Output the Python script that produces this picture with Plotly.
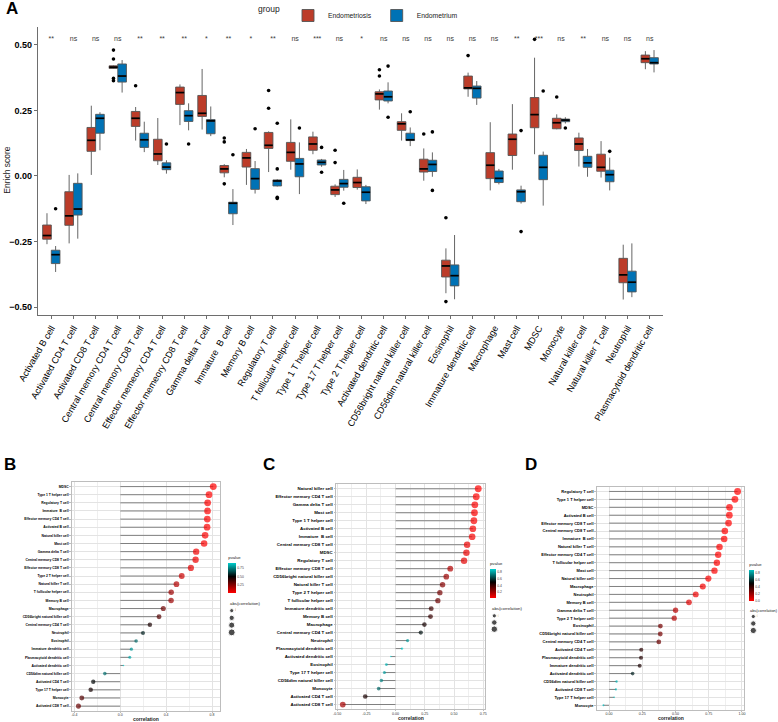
import numpy as np
import plotly.graph_objects as go

W, H = 778, 722
FONT = "Liberation Sans, Arial, Helvetica, sans-serif"


def px(x):
    return x / W


def py(y):
    return 1 - y / H


# ---------------- Panel A data ----------------
cells_A = ["Activated B cell", "Activated CD4 T cell", "Activated CD8 T cell",
           "Central memory CD4 T cell", "Central memory CD8 T cell",
           "Effector memeory CD4 T cell", "Effector memeory CD8 T cell",
           "Gamma delta T cell", "Immature\u00a0 B cell", "Memory B cell",
           "Regulatory T cell", "T follicular helper cell", "Type 1 T helper cell",
           "Type 17 T helper cell", "Type 2 T helper cell", "Activated dendritic cell",
           "CD56bright natural killer cell", "CD56dim natural killer cell",
           "Eosinophil", "Immature dendritic cell", "Macrophage", "Mast cell",
           "MDSC", "Monocyte", "Natural killer cell", "Natural killer T cell",
           "Neutrophil", "Plasmacytoid dendritic cell"]
sig_A = ["**", "ns", "ns", "ns", "**", "**", "**", "*", "**", "*", "**", "ns", "***",
         "ns", "*", "ns", "ns", "ns", "ns", "ns", "ns", "**", "***", "ns", "**", "ns",
         "ns", "ns"]
sig_y = 0.52

# Endometriosis (red)
endo_q1 = [-0.241, -0.188, 0.094, 0.410, 0.189, 0.058, 0.273, 0.227, 0.012, 0.034,
           0.105, 0.056, 0.098, -0.071, -0.044, 0.290, 0.174, 0.015, -0.385, 0.332,
           -0.010, 0.078, 0.184, 0.180, 0.097, 0.018, -0.407, 0.432]
endo_med = [-0.227, -0.152, 0.136, 0.415, 0.220, 0.084, 0.318, 0.239, 0.027, 0.069,
            0.117, 0.090, 0.122, -0.053, -0.025, 0.313, 0.199, 0.027, -0.343, 0.336,
            0.041, 0.140, 0.234, 0.203, 0.122, 0.033, -0.377, 0.447]
endo_q3 = [-0.187, -0.060, 0.185, 0.420, 0.246, 0.140, 0.339, 0.307, 0.040, 0.090,
           0.166, 0.128, 0.149, -0.039, -0.005, 0.321, 0.207, 0.064, -0.321, 0.381,
           0.089, 0.160, 0.299, 0.220, 0.145, 0.083, -0.314, 0.461]
endo_lo = [-0.260, -0.257, 0.004, 0.408, 0.135, 0.042, 0.194, 0.177, -0.005, -0.034,
           0.015, 0.024, 0.083, -0.080, -0.052, 0.253, 0.135, -0.018, -0.447, 0.302,
           -0.055, 0.024, 0.083, 0.178, 0.036, -0.006, -0.471, 0.407]
endo_hi = [-0.142, 0.004, 0.268, 0.422, 0.263, 0.221, 0.349, 0.408, 0.045, 0.103,
           0.170, 0.216, 0.169, -0.032, 0.025, 0.330, 0.239, 0.105, -0.276, 0.394,
           0.205, 0.274, 0.451, 0.235, 0.165, 0.133, -0.262, 0.476]
endo_out = [[], [], [], [0.480, 0.446, 0.372, 0.363], [0.344], [], [], [],
            [0.145, 0.130, -0.030], [], [0.326, 0.258], [], [], [0.098, 0.051], [],
            [0.405, 0.381], [], [0.160], [-0.159, -0.479], [0.459], [], [], [0.521],
            [0.301], [], [], [], []]

# Endometrium (blue)
eum_q1 = [-0.334, -0.149, 0.163, 0.358, 0.109, 0.024, 0.208, 0.161, -0.144, -0.051,
          -0.038, -0.003, 0.042, -0.043, -0.095, 0.286, 0.135, 0.017, -0.419, 0.297,
          -0.025, -0.098, -0.014, 0.207, 0.033, -0.022, -0.442, 0.427]
eum_med = [-0.300, -0.126, 0.220, 0.381, 0.138, 0.034, 0.230, 0.210, -0.104, -0.010,
           -0.019, 0.046, 0.052, -0.029, -0.062, 0.302, 0.138, 0.044, -0.380, 0.334,
           -0.009, -0.060, 0.033, 0.213, 0.050, 0.005, -0.405, 0.432]
eum_q3 = [-0.283, -0.028, 0.235, 0.427, 0.163, 0.050, 0.249, 0.215, -0.100, 0.028,
          -0.015, 0.067, 0.061, -0.013, -0.041, 0.324, 0.163, 0.060, -0.339, 0.343,
          0.019, -0.053, 0.079, 0.217, 0.075, 0.022, -0.363, 0.451]
eum_lo = [-0.366, -0.239, 0.098, 0.318, 0.091, 0.009, 0.174, 0.152, -0.187, -0.067,
          -0.040, -0.069, 0.035, -0.056, -0.107, 0.277, 0.114, -0.003, -0.470, 0.271,
          -0.032, -0.105, -0.113, 0.200, -0.003, -0.055, -0.462, 0.395]
eum_hi = [-0.267, 0.010, 0.243, 0.442, 0.207, 0.060, 0.277, 0.265, -0.050, 0.057,
          -0.012, 0.128, 0.065, 0.023, -0.034, 0.357, 0.185, 0.090, -0.225, 0.362,
          0.027, -0.037, 0.093, 0.224, 0.103, 0.070, -0.257, 0.480]
eum_out = [[-0.125], [], [], [], [], [0.122], [0.122], [], [0.081], [0.180],
           [0.201, 0.027, -0.081, -0.086], [0.183], [0.109, 0.014], [-0.104], [],
           [0.419, 0.224], [0.245], [0.168, -0.055], [], [], [], [0.173, -0.212],
           [0.324], [0.183], [], [0.094], [], []]

groups = ["Endometriosis", "Endometrium"]
group_colors = ["#BC3C29", "#0072B5"]

# ---------------- Panels B, C, D data ----------------
cells_B = ["MDSC", "Type 1 T helper cell", "Regulatory T cell", "Immature\u00a0 B cell",
           "Effector memory CD4 T cell", "Activated B cell", "Natural killer cell",
           "Mast cell", "Gamma delta T cell", "Central memory CD8 T cell",
           "Effector memory CD8 T cell", "Type 2 T helper cell", "Natural killer T cell",
           "T follicular helper cell", "Memory B cell", "Macrophage",
           "CD56bright natural killer cell", "Central memory CD4 T cell", "Neutrophil",
           "Eosinophil", "Immature dendritic cell", "Plasmacytoid dendritic cell",
           "Activated dendritic cell", "CD56dim natural killer cell",
           "Activated CD4 T cell", "Type 17 T helper cell", "Monocyte",
           "Activated CD8 T cell"]
corr_B = [0.811, 0.774, 0.762, 0.761, 0.759, 0.757, 0.740, 0.731, 0.662, 0.657, 0.616,
          0.536, 0.490, 0.444, 0.443, 0.375, 0.338, 0.258, 0.198, 0.138, 0.097, 0.083,
          0.028, -0.135, -0.236, -0.258, -0.336, -0.365]
pval_B = [0.005, 0.009, 0.010, 0.010, 0.011, 0.011, 0.014, 0.016, 0.037, 0.039, 0.058,
          0.11, 0.15, 0.20, 0.20, 0.29, 0.34, 0.45, 0.56, 0.70, 0.79, 0.82, 0.90, 0.71,
          0.51, 0.46, 0.34, 0.30]
size_legend_B = [0.2, 0.4, 0.6, 0.8]
size_labels_B = ["0.2", "0.4", "0.6", "0.8"]
xticks_B = [-0.4, 0.0, 0.4, 0.8]
xticklabels_B = ["-0.4", "0.0", "0.4", "0.8"]
cbticks_B = [0.25, 0.50, 0.75]
cblabels_B = ["0.25", "0.50", "0.75"]

cells_C = ["Natural killer cell", "Effector memory CD4 T cell", "Gamma delta T cell",
           "Mast cell", "Type 1 T helper cell", "Activated B cell", "Immature\u00a0 B cell",
           "Central memory CD8 T cell", "MDSC", "Regulatory T cell",
           "Effector memory CD8 T cell", "CD56bright natural killer cell",
           "Natural killer T cell", "Type 2 T helper cell", "T follicular helper cell",
           "Immature dendritic cell", "Memory B cell", "Macrophage",
           "Central memory CD4 T cell", "Neutrophil", "Plasmacytoid dendritic cell",
           "Activated dendritic cell", "Eosinophil", "Type 17 T helper cell",
           "CD56dim natural killer cell", "Monocyte", "Activated CD4 T cell",
           "Activated CD8 T cell"]
corr_C = [0.707, 0.690, 0.678, 0.675, 0.670, 0.661, 0.655, 0.612, 0.606, 0.586, 0.468,
          0.434, 0.402, 0.379, 0.362, 0.305, 0.299, 0.247, 0.216, 0.103, 0.055, -0.040,
          -0.078, -0.095, -0.121, -0.144, -0.259, -0.451]
pval_C = [0.022, 0.027, 0.031, 0.032, 0.034, 0.038, 0.040, 0.060, 0.063, 0.075, 0.17,
          0.21, 0.25, 0.28, 0.30, 0.39, 0.40, 0.46, 0.53, 0.78, 0.88, 0.89, 0.83, 0.79,
          0.74, 0.69, 0.45, 0.19]
size_legend_C = [0.2, 0.4, 0.6]
size_labels_C = ["0.2", "0.4", "0.6"]
xticks_C = [-0.50, -0.25, 0.00, 0.25, 0.50, 0.75]
xticklabels_C = ["-0.50", "-0.25", "0.00", "0.25", "0.50", "0.75"]
cbticks_C = [0.2, 0.4, 0.6, 0.8]
cblabels_C = ["0.2", "0.4", "0.6", "0.8"]

cells_D = ["Regulatory T cell", "Type 1 T helper cell", "MDSC", "Activated B cell",
           "Effector memory CD8 T cell", "Central memory CD8 T cell", "Immature\u00a0 B cell",
           "Natural killer T cell", "Effector memory CD4 T cell",
           "T follicular helper cell", "Mast cell", "Natural killer cell", "Macrophage",
           "Neutrophil", "Memory B cell", "Gamma delta T cell", "Type 2 T helper cell",
           "Eosinophil", "CD56bright natural killer cell", "Central memory CD4 T cell",
           "Activated CD4 T cell", "Plasmacytoid dendritic cell",
           "Immature dendritic cell", "Activated dendritic cell",
           "CD56dim natural killer cell", "Activated CD8 T cell",
           "Type 17 T helper cell", "Monocyte"]
corr_D = [0.967, 0.947, 0.906, 0.905, 0.899, 0.871, 0.866, 0.831, 0.821, 0.811, 0.793,
          0.747, 0.705, 0.652, 0.601, 0.500, 0.490, 0.386, 0.385, 0.374, 0.242, 0.240,
          0.230, 0.177, 0.056, 0.051, 0.038, -0.043]
pval_D = [0.00001, 0.00004, 0.0003, 0.0003, 0.0004, 0.001, 0.001, 0.003, 0.004, 0.004,
          0.006, 0.013, 0.023, 0.041, 0.066, 0.14, 0.15, 0.27, 0.27, 0.29, 0.42, 0.43,
          0.45, 0.56, 0.85, 0.86, 0.88, 0.87]
size_legend_D = [0.25, 0.50, 0.75]
size_labels_D = ["0.25", "0.50", "0.75"]
xticks_D = [0.00, 0.25, 0.50, 0.75, 1.00]
xticklabels_D = ["0.00", "0.25", "0.50", "0.75", "1.00"]
cbticks_D = [0.0, 0.2, 0.4, 0.6, 0.8]
cblabels_D = ["0.0", "0.2", "0.4", "0.6", "0.8"]

# ---------------- figure ----------------
fig = go.Figure()

# ----- Panel A -----
DODGE = 0.195
BOXW = 0.39
idx = list(range(len(cells_A)))
stats = [
    (endo_q1, endo_med, endo_q3, endo_lo, endo_hi, endo_out, -DODGE),
    (eum_q1, eum_med, eum_q3, eum_lo, eum_hi, eum_out, DODGE),
]
for g, (q1, med, q3, lo, hi, outs, off) in enumerate(stats):
    xs = [i + off for i in idx]
    fig.add_trace(go.Box(
        x=xs, q1=q1, median=med, q3=q3, lowerfence=lo, upperfence=hi,
        width=BOXW, whiskerwidth=0, boxpoints=False,
        fillcolor=group_colors[g], line=dict(color="#555555", width=0.9),
        name=groups[g], legendgroup=groups[g], showlegend=True,
        xaxis="x", yaxis="y"))
    mx, my = [], []
    for x0, m in zip(xs, med):
        mx += [x0 - BOXW / 2 * 0.97, x0 + BOXW / 2 * 0.97, None]
        my += [m, m, None]
    fig.add_trace(go.Scatter(x=mx, y=my, mode="lines",
                             line=dict(color="black", width=1.7),
                             showlegend=False, hoverinfo="skip",
                             xaxis="x", yaxis="y"))
    ox, oy = [], []
    for x0, o in zip(xs, outs):
        for v in o:
            ox.append(x0)
            oy.append(v)
    fig.add_trace(go.Scatter(x=ox, y=oy, mode="markers",
                             marker=dict(color="black", size=3.6),
                             showlegend=False, xaxis="x", yaxis="y"))

fig.add_trace(go.Scatter(x=idx, y=[sig_y] * len(idx), mode="text", text=sig_A,
                         textfont=dict(size=7, color="#3a3a3a", family=FONT),
                         showlegend=False, xaxis="x", yaxis="y"))


# ----- helper for lollipop panels -----
def pscale(pmin, pmax, n=21):
    d = max(0.5 - pmin, pmax - 0.5)
    out = []
    for s in np.linspace(0, 1, n):
        p = pmin + s * (pmax - pmin)
        t = 0.5 + (p - 0.5) / (2 * d)
        if t <= 0.5:
            f = t / 0.5
            rgb = (255 * (1 - f), 0, 0)
        else:
            f = (t - 0.5) / 0.5
            rgb = (0, 255 * f, 255 * f)
        out.append([float(s), "rgb(%d,%d,%d)" % tuple(int(round(c)) for c in rgb)])
    return out


def sizes(vals, amin, amax, dmin=1.6, dmax=6.9):
    return [dmin + (dmax - dmin) * np.sqrt(max(0.0, (abs(v) - amin) / (amax - amin)))
            for v in vals]


panels = [
    dict(ax="2", cax="coloraxis", cells=cells_B, corr=corr_B, p=pval_B,
         box=(71.7, 220.0, 481.7, 711.0), yfont=3.4, xfont=3.5, tdy=8.3,
         xt=xticks_B, xtl=xticklabels_B, minor=0.2,
         cb=dict(x=228.3, top=553.0, bot=593.0, th=8, tv=cbticks_B, tl=cblabels_B),
         leg=dict(cx=231.7, top=607.0, bot=636.0, tx=228.3, ty=603.7, fs=4.3,
                  vals=size_legend_B, labs=size_labels_B), laxn="5"),
    dict(ax="3", cax="coloraxis2", cells=cells_C, corr=corr_C, p=pval_C,
         box=(336.0, 485.0, 484.0, 709.3), yfont=4.4, xfont=3.6, tdy=9.0,
         xt=xticks_C, xtl=xticklabels_C, minor=0.125,
         cb=dict(x=490.0, top=559.0, bot=598.0, th=6, tv=cbticks_C, tl=cblabels_C),
         leg=dict(cx=494.3, top=612.5, bot=632.5, tx=490.0, ty=608.0, fs=4.3,
                  vals=size_legend_C, labs=size_labels_C), laxn="6"),
    dict(ax="4", cax="coloraxis3", cells=cells_D, corr=corr_D, p=pval_D,
         box=(596.7, 744.3, 486.7, 710.0), yfont=4.0, xfont=3.6, tdy=8.3,
         xt=xticks_D, xtl=xticklabels_D, minor=0.125,
         cb=dict(x=749.3, top=560.0, bot=601.0, th=5, tv=cbticks_D, tl=cblabels_D),
         leg=dict(cx=753.3, top=613.0, bot=634.0, tx=748.0, ty=610.0, fs=3.9,
                  vals=size_legend_D, labs=size_labels_D), laxn="7"),
]

layout_extra = {}
annotations = []
for P in panels:
    corr = P["corr"]
    n = len(corr)
    rows = list(range(n))
    amin = min(abs(v) for v in corr)
    amax = max(abs(v) for v in corr)
    sx, sy = [], []
    for k, v in zip(rows, corr):
        sx += [0, v, None]
        sy += [k, k, None]
    fig.add_trace(go.Scatter(x=sx, y=sy, mode="lines",
                             line=dict(color="#808080", width=1.0),
                             showlegend=False, hoverinfo="skip",
                             xaxis="x" + P["ax"], yaxis="y" + P["ax"]))
    fig.add_trace(go.Scatter(x=corr, y=rows, mode="markers",
                             marker=dict(color=P["p"], coloraxis=P["cax"],
                                         size=sizes(corr, amin, amax),
                                         line=dict(width=0)),
                             showlegend=False,
                             xaxis="x" + P["ax"], yaxis="y" + P["ax"]))
    lo = min(min(corr), 0.0)
    hi = max(max(corr), 0.0)
    span = hi - lo
    xr = [lo - 0.05 * span, hi + 0.05 * span]
    x0, x1, y0, y1 = P["box"]
    minor_vals = [t + P["minor"] for t in P["xt"]] + [P["xt"][0] - P["minor"]]
    layout_extra["xaxis" + P["ax"]] = dict(
        domain=[px(x0), px(x1)], range=xr, anchor="y" + P["ax"], automargin=False,
        tickvals=P["xt"], ticktext=P["xtl"], showgrid=True, gridcolor="#e3e3e3",
        gridwidth=0.6, zeroline=False, showline=True, mirror=True,
        linecolor="#bdbdbd", linewidth=0.8, ticks="outside", ticklen=1,
        tickcolor="#bdbdbd", tickwidth=0.5, ticklabelstandoff=-1,
        tickfont=dict(size=P["xfont"], color="#333333", family=FONT),
        minor=dict(tickvals=minor_vals, showgrid=True, gridcolor="#efefef",
                   gridwidth=0.4, ticks=""))
    layout_extra["yaxis" + P["ax"]] = dict(
        domain=[py(y1), py(y0)], range=[n - 1 + 0.6, -0.6], anchor="x" + P["ax"],
        automargin=False,
        tickvals=rows, ticktext=P["cells"], showgrid=True, gridcolor="#e3e3e3",
        gridwidth=0.6, zeroline=False, showline=True, mirror=True,
        linecolor="#bdbdbd", linewidth=0.8, ticks="outside", ticklen=1.5,
        tickcolor="#bdbdbd", tickwidth=0.5,
        tickfont=dict(size=P["yfont"], color="black", family=FONT, weight="bold"))
    annotations.append(dict(x=px((x0 + x1) / 2), y=py(y1 + P["tdy"]), xref="paper",
                            yref="paper", text="<b>correlation</b>", showarrow=False,
                            font=dict(size=5.0, color="#222222", family=FONT),
                            xanchor="center", yanchor="middle"))
    cb = P["cb"]
    layout_extra[P["cax"]] = dict(
        colorscale=pscale(min(P["p"]), max(P["p"])), cmin=min(P["p"]),
        cmax=max(P["p"]),
        colorbar=dict(x=px(cb["x"]), xanchor="left", y=py(cb["top"]), yanchor="top",
                      len=cb["bot"] - cb["top"], lenmode="pixels", thickness=cb["th"],
                      xpad=0, ypad=0, outlinewidth=0, ticks="",
                      tickvals=cb["tv"], ticktext=cb["tl"],
                      tickfont=dict(size=3.4, color="#444444", family=FONT),
                      title=dict(text="pvalue", side="top",
                                 font=dict(size=4.2, color="#222222", family=FONT))))
    lg = P["leg"]
    nl = len(lg["vals"])
    fig.add_trace(go.Scatter(
        x=[0] * nl, y=list(range(nl)), mode="markers+text", text=lg["labs"],
        textposition="middle right",
        textfont=dict(size=3.4, color="#444444", family=FONT),
        marker=dict(color="black", size=sizes(lg["vals"], amin, amax)),
        showlegend=False, hoverinfo="skip",
        xaxis="x" + P["laxn"], yaxis="y" + P["laxn"]))
    layout_extra["xaxis" + P["laxn"]] = dict(
        domain=[px(lg["cx"] - 4), px(lg["cx"] + 4)], range=[-1, 1], visible=False,
        anchor="y" + P["laxn"], fixedrange=True, automargin=False)
    layout_extra["yaxis" + P["laxn"]] = dict(
        domain=[py(lg["bot"]), py(lg["top"])], range=[nl - 0.5, -0.5], visible=False,
        anchor="x" + P["laxn"], fixedrange=True, automargin=False)
    annotations.append(dict(x=px(lg["tx"]), y=py(lg["ty"]), xref="paper", yref="paper",
                            text="abs(correlation)", showarrow=False,
                            font=dict(size=lg["fs"], color="#222222", family=FONT),
                            xanchor="left", yanchor="middle"))

for letter, lx, ly in [("A", 3.5, 9.0), ("B", 1.5, 465.0), ("C", 261.0, 465.0),
                       ("D", 522.5, 465.0)]:
    annotations.append(dict(x=px(lx), y=py(ly), xref="paper", yref="paper",
                            text="<b>%s</b>" % letter, showarrow=False,
                            font=dict(size=17, color="black", family=FONT),
                            xanchor="left", yanchor="middle"))
annotations.append(dict(x=px(6.7), y=py(170.0), xref="paper", yref="paper",
                        text="Enrich score", textangle=-90, showarrow=False,
                        font=dict(size=8.5, color="#222222", family=FONT),
                        xanchor="center", yanchor="middle"))

fig.update_layout(
    width=W, height=H, margin=dict(l=0, r=0, t=0, b=0, autoexpand=False),
    paper_bgcolor="white", plot_bgcolor="white",
    font=dict(family=FONT, color="black"),
    boxmode="overlay",
    xaxis=dict(domain=[px(38), px(663)], range=[-0.6, len(cells_A) - 1 + 0.6],
               tickvals=idx, ticktext=cells_A, tickangle=-60, automargin=False,
               tickfont=dict(size=9.2, color="black", family=FONT),
               showline=True, linecolor="#6e6e6e", linewidth=1.3, ticks="outside",
               ticklen=3, tickcolor="#6e6e6e", showgrid=False, zeroline=False,
               anchor="y"),
    yaxis=dict(domain=[py(315), py(27)], range=[-0.53, 0.568], automargin=False,
               tickvals=[-0.5, -0.25, 0, 0.25, 0.5],
               ticktext=["\u22120.50", "\u22120.25", "0.00", "0.25", "0.50"],
               tickfont=dict(size=9, color="black", family=FONT, weight="bold"),
               showline=True, linecolor="#6e6e6e", linewidth=1.3, ticks="outside",
               ticklen=3, tickcolor="#6e6e6e", showgrid=False, zeroline=False,
               anchor="x"),
    legend=dict(orientation="h", x=px(256), xanchor="left", y=py(1), yanchor="top",
                title=dict(text="group", font=dict(size=8.5, color="#222222"),
                           side="left"),
                font=dict(size=6.8, color="#222222", family=FONT),
                bgcolor="rgba(0,0,0,0)", itemwidth=30, tracegroupgap=0),
    annotations=annotations,
    **layout_extra,
)

fig.write_html("out.html")
